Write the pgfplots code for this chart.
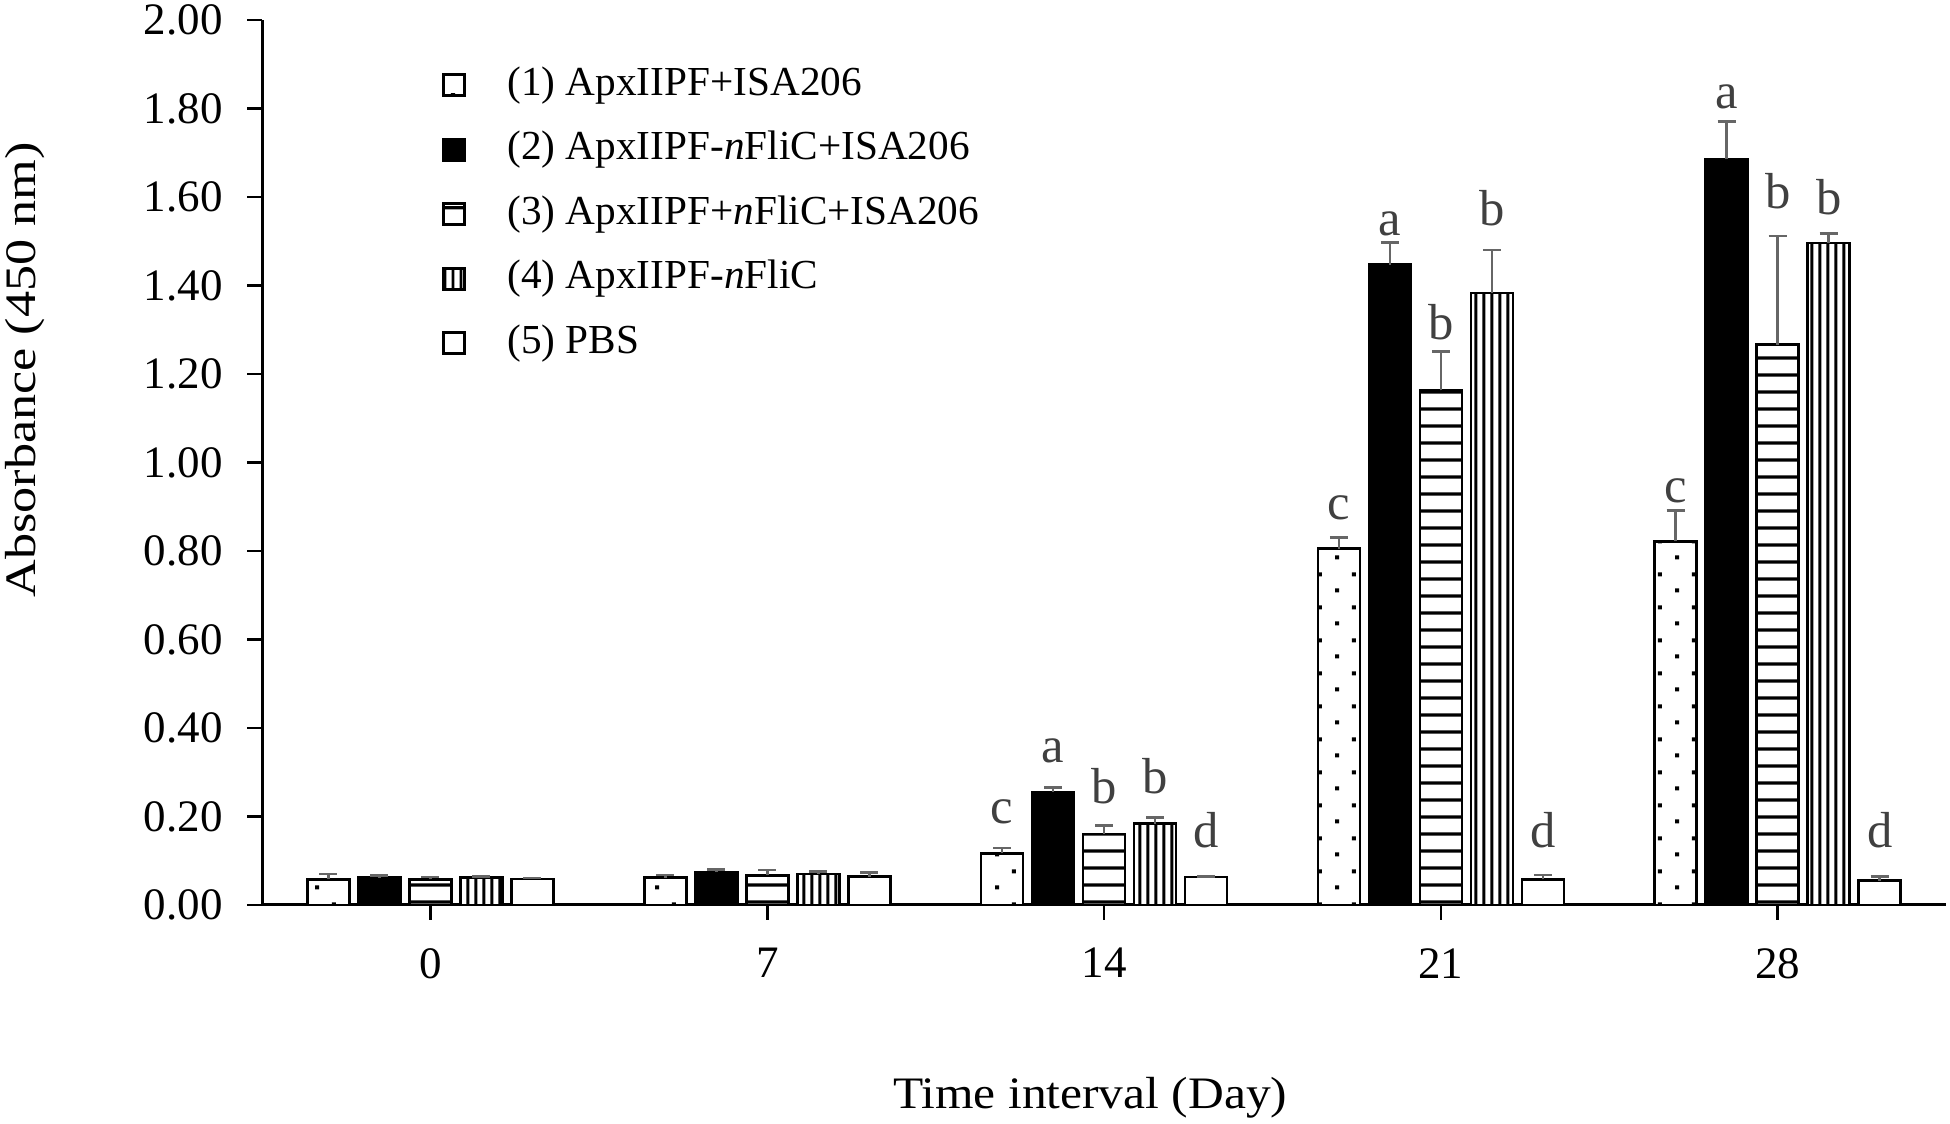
\documentclass[border=0pt]{standalone}
\usepackage{fontspec}
\setmainfont{Liberation Serif}
\usepackage{graphicx}
\usepackage{pgfplots}
\usepackage{pgfplotstable}
\pgfplotsset{compat=1.18}
\usetikzlibrary{patterns}

\definecolor{errgray}{HTML}{666666}
\definecolor{letgray}{HTML}{404040}
\tikzset{lett/.style={anchor=base, font=\fontsize{13.5}{15}\selectfont, text=letgray, inner sep=0pt}}

\pgfdeclarepatternformonly{mydots}{\pgfpointorigin}{\pgfqpoint{9pt}{8.8pt}}{\pgfqpoint{9pt}{8.8pt}}{%
  \pgfpathrectangle{\pgfqpoint{3.25pt}{1pt}}{\pgfqpoint{1.1pt}{1.1pt}}%
  \pgfpathrectangle{\pgfqpoint{7.75pt}{5.4pt}}{\pgfqpoint{1.1pt}{1.1pt}}%
  \pgfusepath{fill}}
\pgfdeclarepatternformonly{myhlines}{\pgfpointorigin}{\pgfqpoint{4pt}{4.4pt}}{\pgfqpoint{4pt}{4.4pt}}{%
  \pgfsetlinewidth{0.9pt}\pgfpathmoveto{\pgfqpoint{-0.5pt}{2.2pt}}\pgfpathlineto{\pgfqpoint{4.5pt}{2.2pt}}\pgfusepath{stroke}}
\pgfdeclarepatternformonly{myvlines}{\pgfpointorigin}{\pgfqpoint{2.1pt}{4pt}}{\pgfqpoint{2.1pt}{4pt}}{%
  \pgfsetlinewidth{0.75pt}\pgfpathmoveto{\pgfqpoint{1.05pt}{-0.5pt}}\pgfpathlineto{\pgfqpoint{1.05pt}{4.5pt}}\pgfusepath{stroke}}

\pgfplotstableread{
x y e
0 0.058 0.012
1 0.062 0.006
2 0.117 0.012
3 0.805 0.026
4 0.822 0.069
}\dA
\pgfplotstableread{
x y e
0 0.062 0.005
1 0.074 0.006
2 0.255 0.011
3 1.447 0.050
4 1.685 0.085
}\dB
\pgfplotstableread{
x y e
0 0.058 0.005
1 0.067 0.012
2 0.160 0.020
3 1.163 0.088
4 1.266 0.246
}\dC
\pgfplotstableread{
x y e
0 0.062 0.003
1 0.070 0.005
2 0.184 0.014
3 1.383 0.097
4 1.496 0.021
}\dD
\pgfplotstableread{
x y e
0 0.059 0.002
1 0.064 0.010
2 0.063 0.002
3 0.058 0.010
4 0.055 0.010
}\dE

\begin{document}
\begin{tikzpicture}
\begin{axis}[
  scale only axis,
  width=449.1pt, height=236pt,
  xmin=-0.5, xmax=4.5, ymin=0, ymax=2,
  axis lines=left,
  axis line style={-, line width=0.8pt, black},
  tick align=outside,
  major tick length=4pt,
  tick style={line width=0.7pt, black},
  xtick={0,1,2,3,4},
  xticklabels={0,7,14,21,28},
  ytick={0,0.2,0.4,0.6,0.8,1.0,1.2,1.4,1.6,1.8,2.0},
  minor tick num=0,
  /pgf/number format/assume math mode=true,
  ticklabel style={font=\fontsize{12}{14}\selectfont},
  yticklabel style={/pgf/number format/.cd, fixed, fixed zerofill, precision=2, /tikz/.cd, xshift=-3pt},
  xticklabel style={yshift=-4pt},
  ybar=2.4pt,
  bar width=11.2pt,
  legend cell align=left,
  legend style={draw=none, fill=none, at={(0.1063,0.9495)}, anchor=north west, inner sep=0pt,
    font=\fontsize{11}{13}\selectfont, row sep=6.7pt,
    nodes={inner sep=0pt, text height=8pt, text depth=2.5pt}},
  legend image code/.code={\draw[#1, line width=0.8pt] (0pt,-2.8pt) rectangle (5.6pt,2.8pt); \path (16.8pt,0pt);},
  mybar/.style={draw=black, line width=0.7pt, fill=white,
    error bars/y dir=plus, error bars/y explicit,
    error bars/error bar style={line width=0.7pt, color=errgray},
    error bars/error mark options={rotate=90, mark size=2.4pt, line width=0.7pt, color=errgray}},
]
\addplot[mybar, postaction={pattern=mydots}] table[x=x,y=y,y error=e]{\dA};
\addlegendentry{(1) ApxIIPF+ISA206}
\addplot[mybar, fill=black] table[x=x,y=y,y error=e]{\dB};
\addlegendentry{(2) ApxIIPF-\textit{n}FliC+ISA206}
\addplot[mybar, postaction={pattern=myhlines}] table[x=x,y=y,y error=e]{\dC};
\addlegendentry{(3) ApxIIPF+\textit{n}FliC+ISA206}
\addplot[mybar, postaction={pattern=myvlines}] table[x=x,y=y,y error=e]{\dD};
\addlegendentry{(4) ApxIIPF-\textit{n}FliC}
\addplot[mybar] table[x=x,y=y,y error=e]{\dE};
\addlegendentry{(5) PBS}

% significance letters
\node[lett] at ([xshift=-27.2pt]axis cs:2,0.185) {c};
\node[lett] at ([xshift=-13.6pt]axis cs:2,0.321) {a};
\node[lett] at ([xshift=0pt]axis cs:2,0.230) {b};
\node[lett] at ([xshift=13.6pt]axis cs:2,0.253) {b};
\node[lett] at ([xshift=27.2pt]axis cs:2,0.131) {d};
\node[lett] at ([xshift=-27.2pt]axis cs:3,0.871) {c};
\node[lett] at ([xshift=-13.6pt]axis cs:3,1.512) {a};
\node[lett] at ([xshift=0pt]axis cs:3,1.279) {b};
\node[lett] at ([xshift=13.6pt]axis cs:3,1.535) {b};
\node[lett] at ([xshift=27.2pt]axis cs:3,0.131) {d};
\node[lett] at ([xshift=-27.2pt]axis cs:4,0.910) {c};
\node[lett] at ([xshift=-13.6pt]axis cs:4,1.801) {a};
\node[lett] at ([xshift=0pt]axis cs:4,1.575) {b};
\node[lett] at ([xshift=13.6pt]axis cs:4,1.561) {b};
\node[lett] at ([xshift=27.2pt]axis cs:4,0.131) {d};

\coordinate (O) at (rel axis cs:0,0);
\end{axis}
\node[rotate=90, font=\fontsize{11.6}{13}\selectfont, inner sep=0pt] at ([shift={(-63.2pt,142.7pt)}]O) {\scalebox{1.2}[1]{Absorbance (450 nm)}};
\node[font=\fontsize{12}{14}\selectfont, inner sep=0pt] at ([shift={(220.85pt,-51.5pt)}]O) {\scalebox{1.1}[1]{Time interval (Day)}};
\pgfresetboundingbox
\path[use as bounding box] ([shift={(-69.87pt,-58.4pt)}]O) rectangle ++(520pt,299.73pt);
\end{tikzpicture}
\end{document}
